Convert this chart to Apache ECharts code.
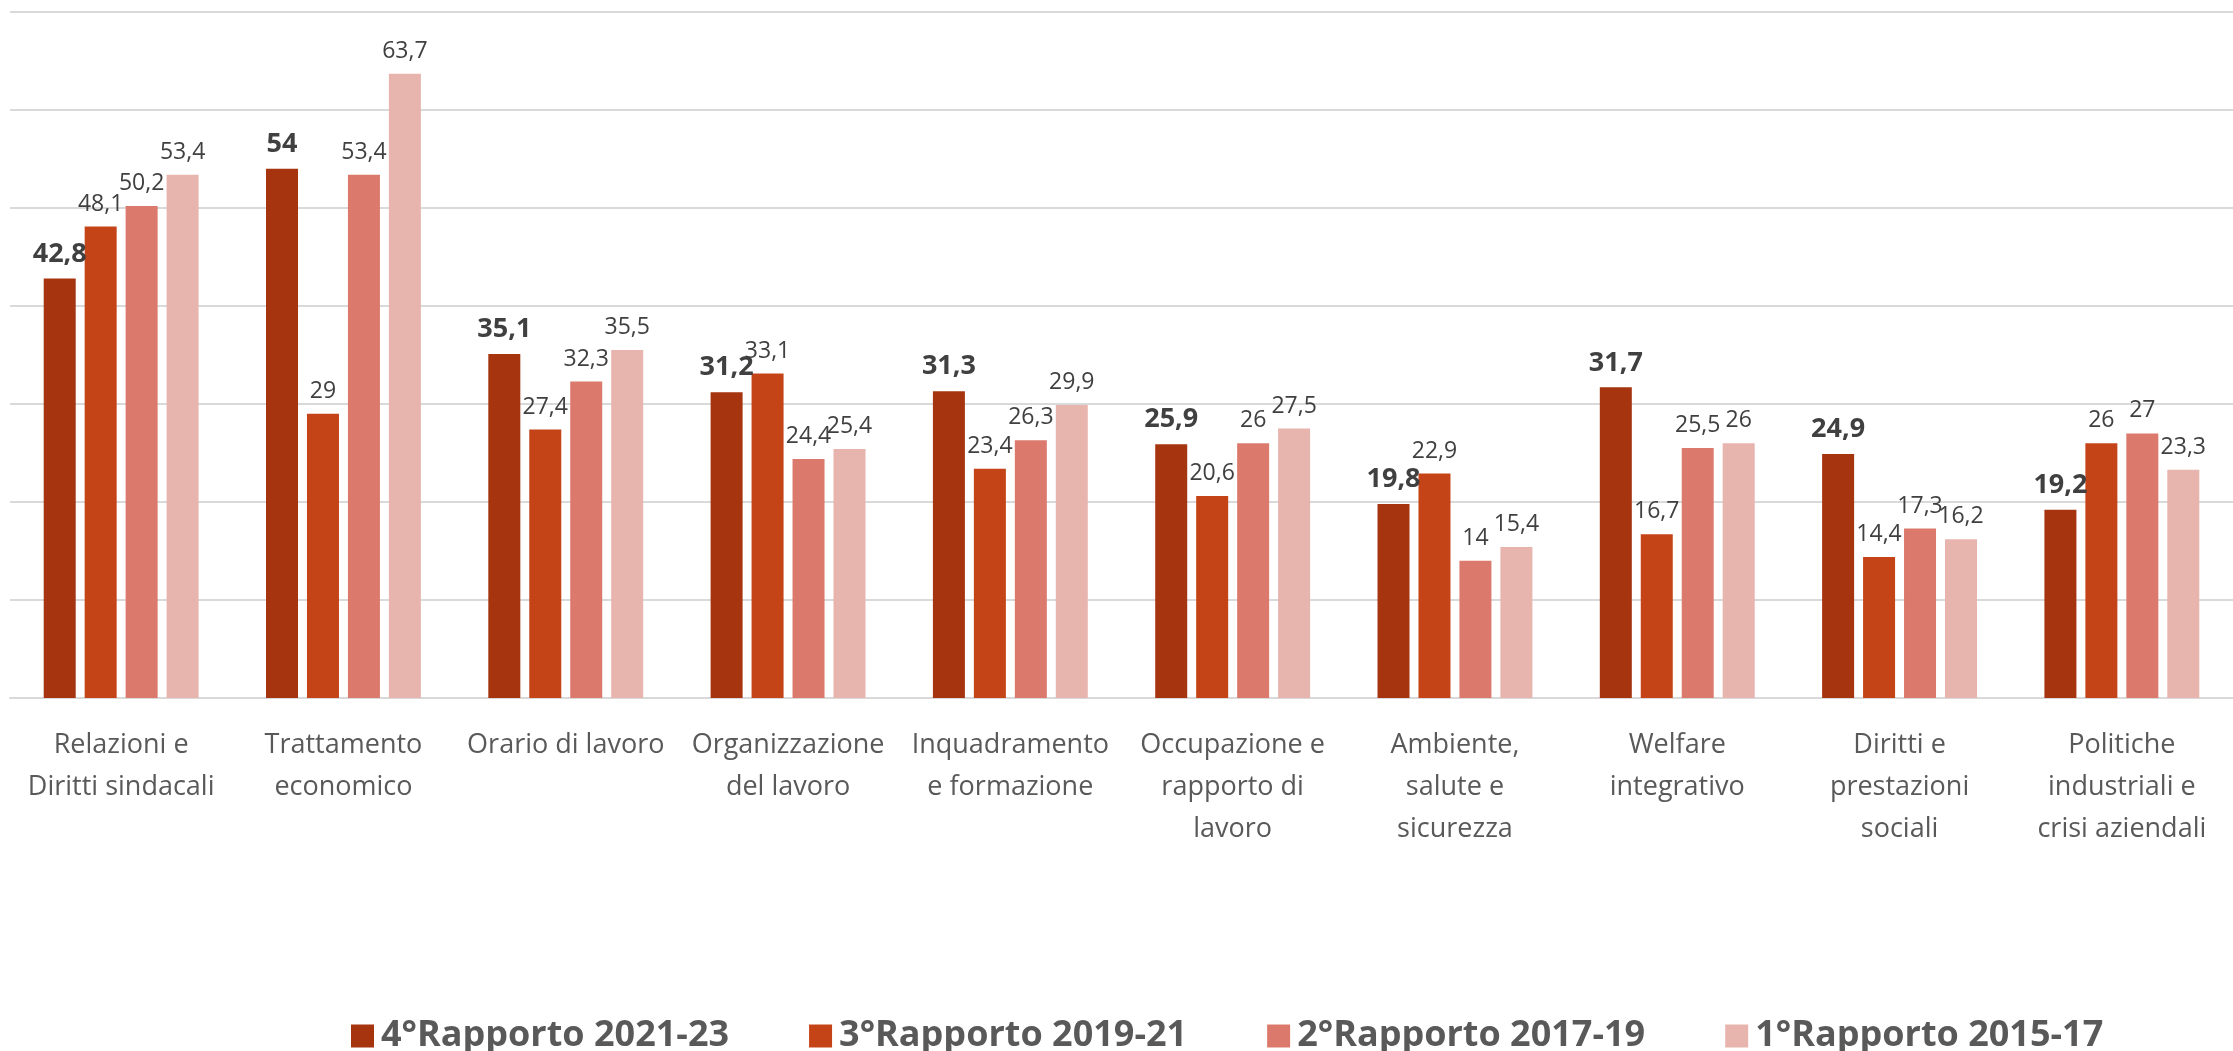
<!DOCTYPE html>
<html>
<head>
<meta charset="utf-8">
<script src="https://cdn.jsdelivr.net/npm/echarts@6/dist/echarts.min.js"></script>
<style>
  html, body { margin: 0; padding: 0; background: #fff; }
  #chart { width: 2233px; height: 1051px; }
</style>
</head>
<body>
<div id="chart"></div>
<script>
var categories = [
  'Relazioni e\nDiritti sindacali',
  'Trattamento\neconomico',
  'Orario di lavoro',
  'Organizzazione\ndel lavoro',
  'Inquadramento\ne formazione',
  'Occupazione e\nrapporto di\nlavoro',
  'Ambiente,\nsalute e\nsicurezza',
  'Welfare\nintegrativo',
  'Diritti e\nprestazioni\nsociali',
  'Politiche\nindustriali e\ncrisi aziendali'
];
var seriesNames = ['4°Rapporto 2021-23', '3°Rapporto 2019-21', '2°Rapporto 2017-19', '1°Rapporto 2015-17'];
var rapporto4 = [42.8, 54, 35.1, 31.2, 31.3, 25.9, 19.8, 31.7, 24.9, 19.2];
var rapporto3 = [48.1, 29, 27.4, 33.1, 23.4, 20.6, 22.9, 16.7, 14.4, 26];
var rapporto2 = [50.2, 53.4, 32.3, 24.4, 26.3, 26, 14, 25.5, 17.3, 27];
var rapporto1 = [53.4, 63.7, 35.5, 25.4, 29.9, 27.5, 15.4, 26, 16.2, 23.3];
var colors = ['#A5340F', '#C44418', '#DB7A6C', '#E8B4AE'];

var font = '"Open Sans", sans-serif';

function fmt(p) {
  return String(p.value).replace('.', ',');
}

function makeSeries(name, data, bold) {
  return {
    name: name,
    type: 'bar',
    data: data,
    barWidth: 32,
    barGap: '28%',
    label: {
      show: true,
      position: 'top',
      distance: 11,
      formatter: fmt,
      color: '#404040',
      fontFamily: font,
      fontSize: bold ? 27 : 23,
      fontWeight: bold ? 'bold' : 'normal'
    }
  };
}

var chart = echarts.init(document.getElementById('chart'));
var option = {
  color: colors,
  animation: false,
  textStyle: { fontFamily: font },
  grid: { left: 10, top: 12, width: 2240, height: 686 },
  legend: {
    data: seriesNames,
    left: 346,
    top: 1008,
    itemWidth: 23,
    itemHeight: 23,
    itemGap: 80,
    icon: 'rect',
    textStyle: {
      color: '#595959',
      fontFamily: font,
      fontSize: 36,
      lineHeight: 46,
      fontWeight: 'bold',
      padding: [0, 0, 0, 2]
    }
  },
  xAxis: {
    type: 'category',
    data: categories,
    axisLine: { lineStyle: { color: '#d9d9d9', width: 2 } },
    axisTick: { show: false },
    axisLabel: {
      color: '#595959',
      fontFamily: font,
      fontSize: 27,
      lineHeight: 42,
      margin: 26,
      interval: 0
    }
  },
  yAxis: {
    type: 'value',
    min: 0,
    max: 70,
    interval: 10,
    axisLabel: { show: false },
    axisLine: { show: false },
    axisTick: { show: false },
    splitLine: { lineStyle: { color: '#d9d9d9', width: 2 } }
  },
  series: [
    makeSeries(seriesNames[0], rapporto4, true),
    makeSeries(seriesNames[1], rapporto3, false),
    makeSeries(seriesNames[2], rapporto2, false),
    makeSeries(seriesNames[3], rapporto1, false)
  ]
};
chart.setOption(option);
</script>
</body>
</html>
